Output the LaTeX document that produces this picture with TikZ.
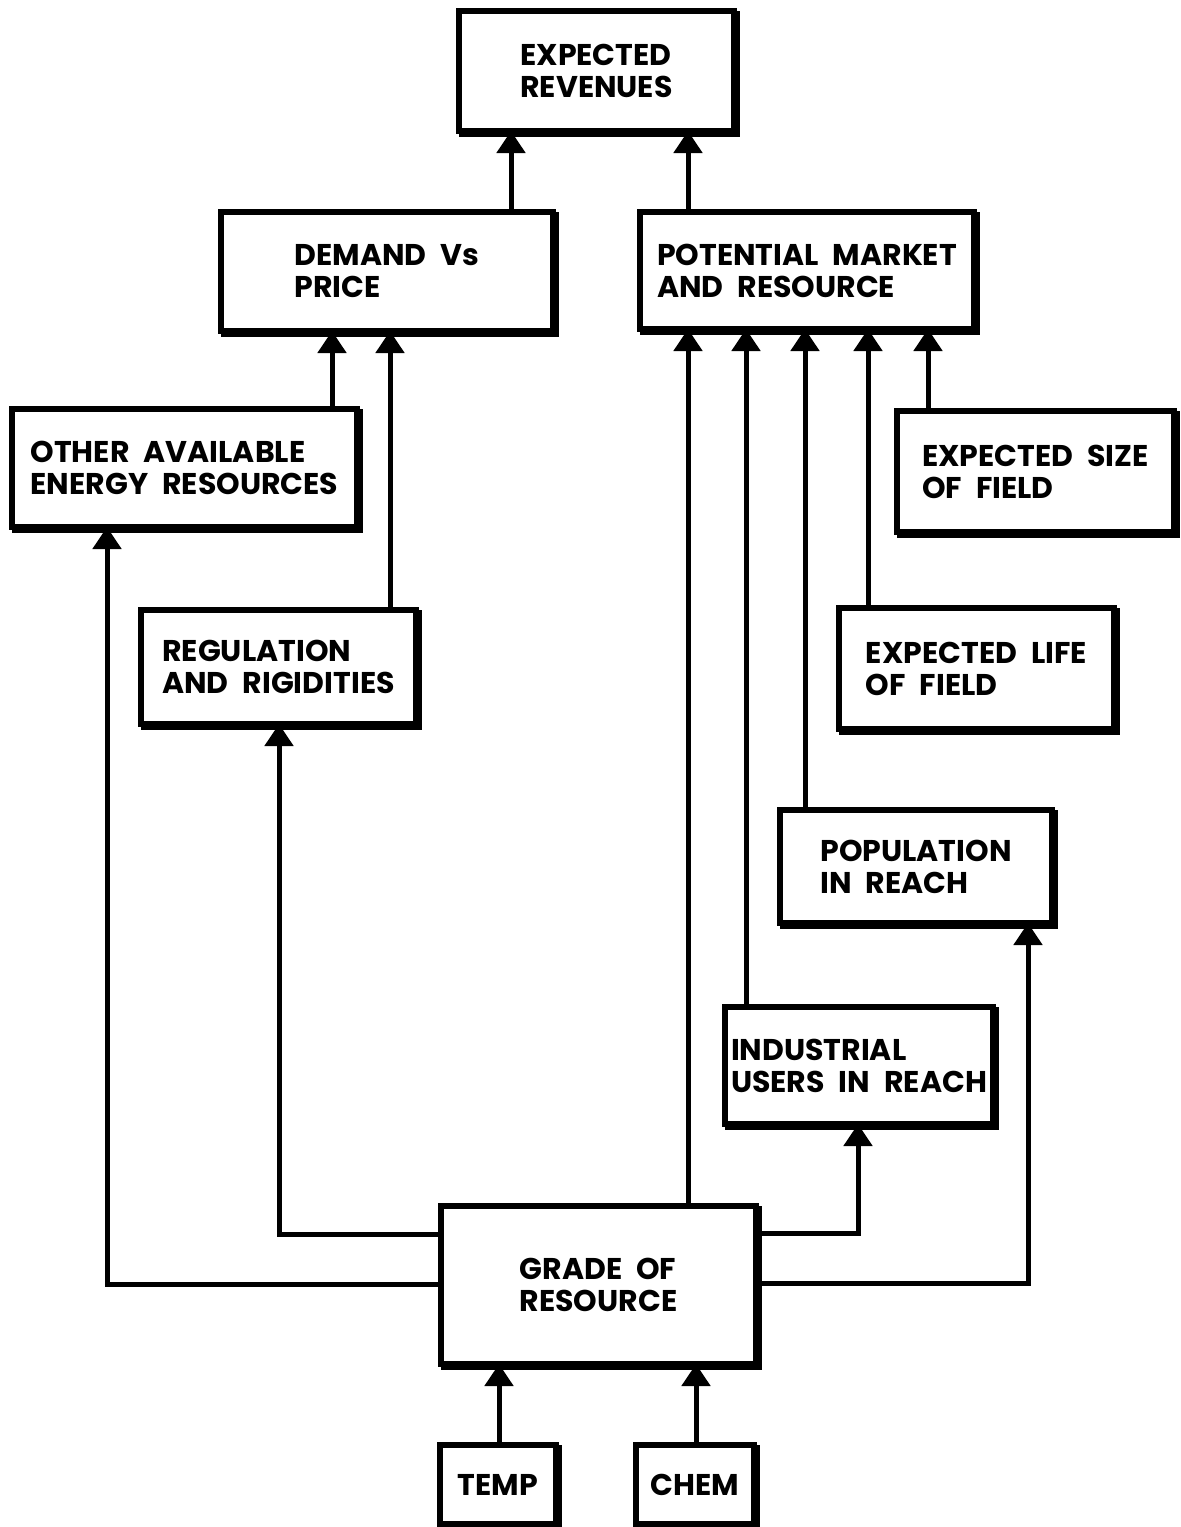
\documentclass[tikz,border=0pt]{standalone}
\usepackage{fontspec}
\setmainfont{Poppins}
\usetikzlibrary{arrows.meta}
\newcommand\myboxfont{\bfseries\fontsize{30}{32}\selectfont\spaceskip 14pt plus 2pt\relax}
\tikzset{
  box/.style={draw, line width=6pt, fill=white, align=left, inner sep=0pt, outer sep=0pt,
    font={\myboxfont},
    preaction={draw, line width=6pt, transform canvas={shift={(3pt,-3pt)}}}},
  arr/.style={line width=5pt, -{Triangle[width=28pt,length=22pt]}},
}
\begin{document}
\begin{tikzpicture}[x=1pt,y=-1pt]
\fill[white] (0,0) rectangle (1181,1527);
\useasboundingbox (0,0) rectangle (1181,1527);

\node[box, minimum width=275pt, minimum height=120pt] (rev) at (596.5,71) {EXPECTED\\REVENUES};
\node[box, minimum width=332pt, minimum height=119pt] (dem) at (387,271.5) {DEMAND Vs\\PRICE};
\node[box, minimum width=334pt, minimum height=117pt] (pot) at (807,270.5) {POTENTIAL MARKET\\AND RESOURCE};
\node[box, minimum width=345pt, minimum height=118pt] (oth) at (184.5,468) {OTHER AVAILABLE\\ENERGY RESOURCES};
\node[box, minimum width=277pt, minimum height=121pt] (siz) at (1035.5,471.5) {EXPECTED SIZE\\OF FIELD};
\node[box, minimum width=275pt, minimum height=114pt] (reg) at (278.5,667) {REGULATION\\AND RIGIDITIES};
\node[box, minimum width=275pt, minimum height=121pt] (lif) at (976.5,668.5) {EXPECTED LIFE\\OF FIELD};
\node[box, minimum width=272pt, minimum height=113pt] (pop) at (916,866.5) {POPULATION\\IN REACH};
\node[box, minimum width=268pt, minimum height=117pt] (ind) at (859,1065.5) {INDUSTRIAL\\USERS IN REACH};
\node[box, minimum width=315pt, minimum height=158pt] (gra) at (598.5,1285) {GRADE OF\\RESOURCE};
\node[box, minimum width=116pt, minimum height=79pt] (tem) at (498,1484.5) {TEMP};
\node[box, minimum width=118pt, minimum height=79pt] (che) at (695,1484.5) {CHEM};

% into expected revenues
\draw[arr] (dem.north -| 511,0) -- (511,0 |- rev.south);
\draw[arr] (pot.north -| 688,0) -- (688,0 |- rev.south);
% into demand vs price
\draw[arr] (oth.north -| 332,0) -- (332,0 |- dem.south);
\draw[arr] (reg.north -| 390,0) -- (390,0 |- dem.south);
% into potential market
\draw[arr] (gra.north -| 688,0) -- (688,0 |- pot.south);
\draw[arr] (ind.north -| 746,0) -- (746,0 |- pot.south);
\draw[arr] (pop.north -| 805,0) -- (805,0 |- pot.south);
\draw[arr] (lif.north -| 868,0) -- (868,0 |- pot.south);
\draw[arr] (siz.north -| 928,0) -- (928,0 |- pot.south);
% from grade of resource
\draw[arr] (gra.west |- 0,1234) -| (279,0 |- reg.south);
\draw[arr] (gra.west |- 0,1284) -| (107,0 |- oth.south);
\draw[arr] (gra.east |- 0,1233) -| (858,0 |- ind.south);
\draw[arr] (gra.east |- 0,1283) -| (1028,0 |- pop.south);
% into grade of resource
\draw[arr] (tem.north -| 499,0) -- (499,0 |- gra.south);
\draw[arr] (che.north -| 696,0) -- (696,0 |- gra.south);
\end{tikzpicture}
\end{document}
